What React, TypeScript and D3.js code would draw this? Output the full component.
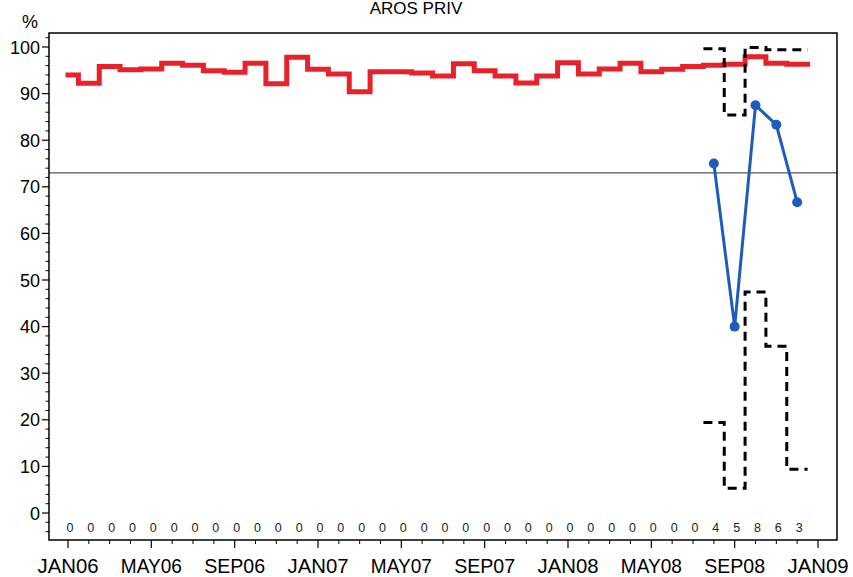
import React from "react";
import * as d3 from "d3";

const monthTickLabels = ["JAN06", "MAY06", "SEP06", "JAN07", "MAY07", "SEP07", "JAN08", "MAY08", "SEP08", "JAN09"];
const monthTickIndex = [0, 4, 8, 12, 16, 20, 24, 28, 32, 36];
const yTicks = [0, 10, 20, 30, 40, 50, 60, 70, 80, 90, 100];

// Monthly overall rate (red step line), JAN06..DEC08
const overallRate = [
  94.0, 92.2, 95.8, 95.1, 95.3, 96.5, 96.1, 94.9, 94.6, 96.5, 92.1, 97.8,
  95.2, 94.2, 90.4, 94.7, 94.7, 94.4, 93.8, 96.4, 94.9, 93.8, 92.3, 93.8,
  96.6, 94.2, 95.3, 96.5, 94.7, 95.2, 95.8, 96.1, 96.3, 97.9, 96.5, 96.3,
];

// Counts per month (bottom labels)
const counts = [
  0, 0, 0, 0, 0, 0, 0, 0, 0, 0, 0, 0,
  0, 0, 0, 0, 0, 0, 0, 0, 0, 0, 0, 0,
  0, 0, 0, 0, 0, 0, 0, 4, 5, 8, 6, 3,
];

// Unit rate (blue) for months AUG08..DEC08
const unitMonths = [31, 32, 33, 34, 35];
const unitRate = [75.0, 40.0, 87.5, 83.3, 66.7];
const upperLimit = [99.6, 85.4, 99.9, 99.4, 99.4];
const lowerLimit = [19.4, 5.3, 47.4, 35.8, 9.4];

const targetValue = 73;

const W = 853;
const H = 577;
const plotLeft = 49;
const plotRight = 837;
const plotTop = 33;
const plotBottom = 540;

export default function App() {
  const x = d3.scaleLinear().domain([0, 36]).range([68, 818]);
  const y = d3.scaleLinear().domain([0, 100]).range([513, 47]);
  const half = (x(1) - x(0)) / 2;

  const step = d3
    .line<[number, number]>()
    .x((d) => d[0])
    .y((d) => d[1])
    .curve(d3.curveStep);

  const redPts: [number, number][] = overallRate.map((v, i) => [x(i), y(v)]);
  redPts.push([x(overallRate.length - 1) + half, y(overallRate[overallRate.length - 1])]);

  const limitPts = (vals: number[]): [number, number][] => {
    const pts: [number, number][] = vals.map((v, i) => [x(unitMonths[i]), y(v)]);
    pts.unshift([x(unitMonths[0]) - half, y(vals[0])]);
    pts.push([x(unitMonths[unitMonths.length - 1]) + half, y(vals[vals.length - 1])]);
    return pts;
  };

  const blueLine = d3
    .line<number>()
    .x((_, i) => x(unitMonths[i]))
    .y((d) => y(d));

  const yMinor = d3.range(-4, 103, 2).filter((v) => v % 10 !== 0);
  const xMinor = d3.range(0, 37).filter((m) => m % 4 !== 0);

  const font = "'Liberation Sans', Arial, Helvetica, sans-serif";

  return (
    <svg
      width={W}
      height={H}
      style={{ position: "absolute", left: 0, top: 0, background: "#fff" }}
      fontFamily={font}
    >
      <rect x={0} y={0} width={W} height={H} fill="#fff" />
      <text x={416} y={14} fontSize={17} textAnchor="middle" fill="#000">
        AROS PRIV
      </text>
      <text x={30} y={28} fontSize={18} textAnchor="middle" fill="#000">
        %
      </text>

      {/* target line */}
      <line x1={plotLeft} x2={plotRight} y1={y(targetValue)} y2={y(targetValue)} stroke="#555" strokeWidth={1.2} />

      {/* red step line */}
      <path d={step(redPts) || ""} fill="none" stroke="#e8222a" strokeWidth={5} strokeLinecap="square" strokeLinejoin="miter" />

      {/* limits */}
      <path d={step(limitPts(upperLimit)) || ""} fill="none" stroke="#000" strokeWidth={3} strokeDasharray="9 6" />
      <path d={step(limitPts(lowerLimit)) || ""} fill="none" stroke="#000" strokeWidth={3} strokeDasharray="9 6" />

      {/* blue unit line */}
      <path d={blueLine(unitRate) || ""} fill="none" stroke="#1f5bbf" strokeWidth={3} />
      {unitRate.map((v, i) => (
        <circle key={i} cx={x(unitMonths[i])} cy={y(v)} r={5} fill="#1f5bbf" />
      ))}

      {/* counts */}
      {counts.map((c, i) => (
        <text key={i} x={x(i) + 2} y={532} fontSize={12.5} textAnchor="middle" fill="#222">
          {c}
        </text>
      ))}

      {/* frame */}
      <rect
        x={plotLeft}
        y={plotTop}
        width={plotRight - plotLeft}
        height={plotBottom - plotTop}
        fill="none"
        stroke="#000"
        strokeWidth={1.5}
      />

      {/* y axis ticks */}
      {yTicks.map((t) => (
        <g key={t}>
          <line x1={plotLeft - 7} x2={plotLeft} y1={y(t)} y2={y(t)} stroke="#000" strokeWidth={1.2} />
          <text x={40} y={y(t) + 6.5} fontSize={18} textAnchor="end" fill="#000">
            {t}
          </text>
        </g>
      ))}
      {yMinor.map((t) => (
        <line key={"m" + t} x1={plotLeft - 3.5} x2={plotLeft} y1={y(t)} y2={y(t)} stroke="#000" strokeWidth={1} />
      ))}

      {/* x axis ticks */}
      {monthTickIndex.map((m, i) => (
        <g key={m}>
          <line x1={x(m)} x2={x(m)} y1={plotBottom} y2={plotBottom + 8} stroke="#000" strokeWidth={1.2} />
          <text
            x={x(m)}
            y={573}
            fontSize={21}
            textAnchor="middle"
            fill="#000"
            textLength={61}
            lengthAdjust="spacingAndGlyphs"
          >
            {monthTickLabels[i]}
          </text>
        </g>
      ))}
      {xMinor.map((m) => (
        <line key={"xm" + m} x1={x(m)} x2={x(m)} y1={plotBottom} y2={plotBottom + 4} stroke="#000" strokeWidth={1} />
      ))}
    </svg>
  );
}
